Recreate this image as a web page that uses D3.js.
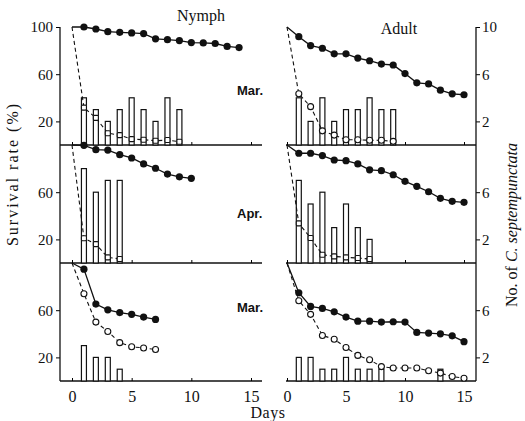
<!DOCTYPE html>
<html lang="en">
<head>
    <meta charset="UTF-8">
    <title>Survival rate of nymph and adult</title>
    <script src="https://d3js.org/d3.v7.js"></script>
    <style>
        body { margin: 0; background: #fff; }
        text { font-family: "Liberation Serif", "DejaVu Serif", serif; fill: #111; }
        .month { font-family: "Liberation Sans", Arial, sans-serif; font-weight: bold; font-size: 13px; }
        .bar { fill: #fff; stroke: #111; stroke-width: 1.2px; }
        .solid { fill: none; stroke: #111; stroke-width: 1.3px; }
        .dashed { fill: none; stroke: #111; stroke-width: 1.1px; stroke-dasharray: 4,3; }
    </style>
</head>
<body>
<svg width="525" height="421"></svg>
<script>
    // survival rate (%) by day, first value = day 0
    let nymphMarSurv = [100, 100, 98.3, 96, 95.5, 95, 94.4, 90, 89.3, 88.5, 86.8, 86.5, 86, 83.5, 82.6];
    let nymphMarOpen = [100, 31.7, 23, 10, 8.4, 5, 4.5, 3.6, 4.2, 2.8];
    let nymphMarCount = [4, 3, 2, 3, 4, 3, 2, 4, 3];
    let adultMarSurv = [100, 91.8, 84.3, 82, 77.3, 77.3, 73.7, 71.4, 68.6, 67.8, 60.5, 52.7, 51.8, 46.5, 43.4, 42.6];
    let adultMarOpen = [100, 43.4, 32.5, 12, 8.4, 4.5, 4.5, 4, 4, 3.1];
    let adultMarCount = [4, 2, 4, 2, 3, 3, 4, 3, 3];

    let nymphAprSurv = [100, 99.7, 96, 95.7, 91.8, 89, 84, 80.3, 75.4, 73, 71.8];
    let nymphAprOpen = [100, 21, 16, 4.8, 3.4];
    let nymphAprCount = [8, 6, 7, 7];
    let adultAprSurv = [100, 93, 93, 91, 87.3, 86.7, 84, 79, 78.2, 74.8, 69.2, 65, 60.4, 54.8, 52.3, 51.4];
    let adultAprOpen = [100, 33.6, 21.2, 7, 5.6, 4.8, 4.2, 3.4];
    let adultAprCount = [7, 5, 6, 3, 5, 3, 2];

    let nymphMar2Surv = [100, 94.8, 65.2, 60.3, 58, 56.5, 54.2, 52.2];
    let nymphMar2Open = [100, 74, 49.9, 42, 32.5, 29, 28, 26.7];
    let nymphMar2Count = [3, 2, 2, 1];
    let adultMar2Surv = [100, 74.8, 63.2, 61.5, 58.6, 54.2, 50.7, 50.7, 49.9, 50.2, 49.9, 41.2, 40.6, 40, 38.3, 33.3];
    let adultMar2Open = [100, 68, 56.5, 38.6, 35.4, 28.4, 21.7, 18, 12.2, 11, 11, 11, 8.7, 6.7, 3.8, 2.3];
    let adultMar2Count = [2, 2, 1, 1, 2, 1, 1, 1, 0, 0, 0, 0, 1];

    let months = ["Mar.", "Apr.", "Mar."];
    let stages = ["Nymph", "Adult"];
    let dayTicks = [0, 5, 10, 15];
    let leftTicks = [[20, 60, 100], [20, 60], [20, 60]];
    let rightTicks = [[2, 6, 10], [2, 6], [2, 6]];

    let panels = [
        {row: 0, col: 0, surv: nymphMarSurv, open: nymphMarOpen, count: nymphMarCount, shape: "square"},
        {row: 0, col: 1, surv: adultMarSurv, open: adultMarOpen, count: adultMarCount, shape: "circle"},
        {row: 1, col: 0, surv: nymphAprSurv, open: nymphAprOpen, count: nymphAprCount, shape: "square"},
        {row: 1, col: 1, surv: adultAprSurv, open: adultAprOpen, count: adultAprCount, shape: "square"},
        {row: 2, col: 0, surv: nymphMar2Surv, open: nymphMar2Open, count: nymphMar2Count, shape: "circle"},
        {row: 2, col: 1, surv: adultMar2Surv, open: adultMar2Open, count: adultMar2Count, shape: "circle"}
    ];

    let svg = d3.select("svg");
    let rowTop = 27, rowH = 118;

    // x scales for the two panels, plus the extent of each panel's frame
    let xScales = [
        d3.scaleLinear().domain([0, 15]).range([72, 251]),
        d3.scaleLinear().domain([0, 15]).range([287, 464])
    ];
    let frames = [[60, 262], [286, 476]];

    let yPct = r => d3.scaleLinear().domain([0, 100]).range([rowTop + (r + 1) * rowH, rowTop + r * rowH]);
    let yCnt = r => d3.scaleLinear().domain([0, 10]).range([rowTop + (r + 1) * rowH, rowTop + r * rowH]);

    // baselines with inward day ticks
    for (let r = 0; r < 3; r++) {
        let yb = yPct(r)(0);
        for (let c = 0; c < 2; c++) {
            svg.append("line")
                .attr("x1", frames[c][0]).attr("x2", frames[c][1])
                .attr("y1", yb).attr("y2", yb)
                .attr("stroke", "#111").attr("stroke-width", 1.3);
            let ax = d3.axisBottom(xScales[c]).tickValues(dayTicks).tickSizeInner(-3).tickSizeOuter(0)
                .tickFormat(r === 2 ? d3.format("d") : "");
            let g = svg.append("g").attr("transform", "translate(0," + yb + ")").call(ax);
            g.select(".domain").remove();
            g.selectAll("text").attr("dy", "1.1em").style("font-size", "16px");
        }
    }

    // left and right vertical axes
    for (let r = 0; r < 3; r++) {
        let gl = svg.append("g").attr("transform", "translate(60,0)")
            .call(d3.axisLeft(yPct(r)).tickValues(leftTicks[r]).tickSize(4).tickPadding(3));
        gl.select(".domain").remove();
        gl.selectAll("text").style("font-size", "15px");
        let gr = svg.append("g").attr("transform", "translate(476,0)")
            .call(d3.axisRight(yCnt(r)).tickValues(rightTicks[r]).tickSize(4).tickPadding(2));
        gr.select(".domain").remove();
        gr.selectAll("text").style("font-size", "15px");
    }
    svg.append("line").attr("x1", 60).attr("x2", 60).attr("y1", rowTop).attr("y2", rowTop + 3 * rowH)
        .attr("stroke", "#111").attr("stroke-width", 1.3);
    svg.append("line").attr("x1", 476).attr("x2", 476).attr("y1", rowTop).attr("y2", rowTop + 3 * rowH)
        .attr("stroke", "#111").attr("stroke-width", 1.3);

    // panels
    panels.forEach(p => {
        let x = xScales[p.col], y = yPct(p.row), yc = yCnt(p.row);
        let g = svg.append("g");

        g.selectAll(".bar")
            .data(p.count.map((v, i) => ({day: i + 1, v: v})).filter(d => d.v > 0))
            .join("rect")
            .attr("class", "bar")
            .attr("x", d => x(d.day) - 2.5)
            .attr("width", 5)
            .attr("y", d => yc(d.v))
            .attr("height", d => yc(0) - yc(d.v));

        let line = d3.line().x((d, i) => x(i)).y(d => y(d));
        g.append("path").attr("class", "dashed").attr("d", line(p.open));
        g.append("path").attr("class", "solid").attr("d", line(p.surv));

        let openPts = p.open.map((v, i) => ({day: i, v: v})).slice(1);
        if (p.shape === "square") {
            g.selectAll(".om").data(openPts).join("rect")
                .attr("x", d => x(d.day) - 2.5).attr("y", d => y(d.v) - 2.5)
                .attr("width", 5).attr("height", 5).attr("rx", 1)
                .attr("fill", "#fff").attr("stroke", "#111").attr("stroke-width", 1.1);
        } else {
            g.selectAll(".om").data(openPts).join("circle")
                .attr("cx", d => x(d.day)).attr("cy", d => y(d.v)).attr("r", 3)
                .attr("fill", "#fff").attr("stroke", "#111").attr("stroke-width", 1.1);
        }

        g.selectAll(".fm").data(p.surv.map((v, i) => ({day: i, v: v})).slice(1)).join("circle")
            .attr("cx", d => x(d.day)).attr("cy", d => y(d.v)).attr("r", 3.6)
            .attr("fill", "#111");
    });

    // month labels
    svg.selectAll(".month").data(months).join("text")
        .attr("class", "month")
        .attr("x", 237)
        .attr("y", (d, i) => [95, 218, 312][i])
        .text(d => d);

    // stage titles
    svg.append("text").attr("x", 201).attr("y", 21).attr("text-anchor", "middle")
        .style("font-size", "16px").text(stages[0]);
    svg.append("text").attr("x", 399).attr("y", 34).attr("text-anchor", "middle")
        .style("font-size", "16px").text(stages[1]);

    // axis titles
    svg.append("text").attr("x", 268).attr("y", 418).attr("text-anchor", "middle")
        .style("font-size", "16px").style("letter-spacing", "0.5px").text("Days");
    svg.append("text").attr("transform", "translate(18,174) rotate(-90)").attr("text-anchor", "middle")
        .style("font-size", "16px").style("letter-spacing", "2px").text("Survival rate (%)");
    let rl = svg.append("text").attr("transform", "translate(517,225) rotate(-90)").attr("text-anchor", "middle")
        .style("font-size", "16px");
    rl.append("tspan").text("No. of ");
    rl.append("tspan").style("font-style", "italic").text("C. septempunctata");
</script>
</body>
</html>
